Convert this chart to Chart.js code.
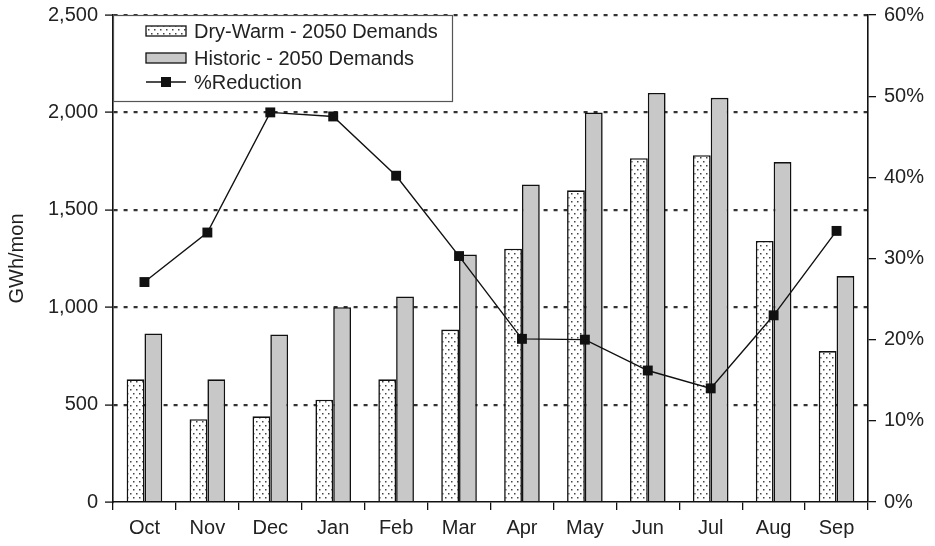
<!DOCTYPE html>
<html>
<head>
<meta charset="utf-8">
<script src="https://cdn.jsdelivr.net/npm/chart.js@4.4.1/dist/chart.umd.min.js"></script>
<style>
  html, body { margin: 0; padding: 0; background: #fff; }
  #wrap { width: 935px; height: 546px; position: relative; }
</style>
</head>
<body>
<div id="wrap"><canvas id="c" width="935" height="546"></canvas></div>
<script>
// Monthly energy demand (GWh/mon) and the percentage reduction between scenarios
const months = ['Oct', 'Nov', 'Dec', 'Jan', 'Feb', 'Mar', 'Apr', 'May', 'Jun', 'Jul', 'Aug', 'Sep'];
const dryWarm = [630, 425, 440, 525, 630, 885, 1300, 1600, 1765, 1780, 1340, 775];
const historic = [865, 630, 860, 1000, 1055, 1270, 1630, 2000, 2100, 2075, 1745, 1160];
const reduction = [27.1, 33.2, 48.0, 47.5, 40.2, 30.3, 20.1, 20.0, 16.2, 14.0, 23.0, 33.4];
const seriesNames = ['Dry-Warm - 2050 Demands', 'Historic - 2050 Demands', '%Reduction'];

const FONT = '"Liberation Sans", Arial, Helvetica, sans-serif';
const FS = 20;

// stippled fill for the dry-warm bars
function makeDots() {
  const t = document.createElement('canvas');
  t.width = 6; t.height = 8;
  const g = t.getContext('2d');
  g.fillStyle = '#ffffff';
  g.fillRect(0, 0, 6, 8);
  g.fillStyle = '#444';
  g.fillRect(1, 1, 1.5, 1.5);
  g.fillRect(4, 5, 1.5, 1.5);
  return g.createPattern(t, 'repeat');
}
const ctx = document.getElementById('c').getContext('2d');
const dots = makeDots();

// legend box drawn inside the plot area, top-left
const boxLegend = {
  id: 'boxLegend',
  afterDraw(chart) {
    const c = chart.ctx;
    const a = chart.chartArea;
    const x0 = a.left, y0 = a.top, w = 340, h = 87;
    c.save();
    c.fillStyle = '#fff';
    c.fillRect(x0, y0, w, h);
    c.strokeStyle = '#555';
    c.lineWidth = 1.2;
    c.strokeRect(x0 + 0.5, y0 + 0.5, w - 1, h - 1);
    c.font = FS + 'px ' + FONT;
    c.textBaseline = 'middle';
    const sx = x0 + 33, sw = 40, tx = x0 + 81;
    const rows = [y0 + 16, y0 + 43, y0 + 67];
    c.strokeStyle = '#111'; c.lineWidth = 1.3;
    // dry-warm swatch
    c.fillStyle = dots;
    c.fillRect(sx, rows[0] - 5, sw, 10);
    c.strokeRect(sx, rows[0] - 5, sw, 10);
    // historic swatch
    c.fillStyle = '#c8c8c8';
    c.fillRect(sx, rows[1] - 5, sw, 10);
    c.strokeRect(sx, rows[1] - 5, sw, 10);
    // line swatch
    c.beginPath();
    c.moveTo(sx, rows[2]); c.lineTo(sx + sw, rows[2]);
    c.lineWidth = 1.5; c.stroke();
    c.fillStyle = '#111';
    c.fillRect(sx + sw / 2 - 5, rows[2] - 5, 10, 10);
    c.fillStyle = '#222';
    seriesNames.forEach((n, i) => c.fillText(n, tx, rows[i] + 1));
    c.restore();
  }
};

// let the plot area reach the canvas edges set by layout padding
function fixVertical(width) {
  return (s) => { s.width = width; s.paddingTop = 0; s.paddingBottom = 0; };
}

new Chart(ctx, {
  data: {
    labels: months,
    datasets: [
      {
        type: 'line', label: seriesNames[2], data: reduction, yAxisID: 'y1', order: 0,
        borderColor: '#111', borderWidth: 1.4, pointStyle: 'rect', pointRadius: 7,
        pointBackgroundColor: '#111', pointBorderColor: '#111', pointBorderWidth: 0, tension: 0
      },
      {
        type: 'bar', label: seriesNames[0], data: dryWarm, yAxisID: 'y', order: 1,
        backgroundColor: dots, borderColor: '#111', borderWidth: 1.6,
        categoryPercentage: 0.566, barPercentage: 1.0
      },
      {
        type: 'bar', label: seriesNames[1], data: historic, yAxisID: 'y', order: 1,
        backgroundColor: '#c8c8c8', borderColor: '#111', borderWidth: 1.6,
        categoryPercentage: 0.566, barPercentage: 1.0
      }
    ]
  },
  options: {
    responsive: false,
    animation: false,
    devicePixelRatio: 1,
    layout: { padding: { top: 15, right: 0, left: 0, bottom: 0 } },
    plugins: { legend: { display: false }, tooltip: { enabled: false } },
    scales: {
      x: {
        grid: { offset: true, drawOnChartArea: false, tickLength: 8, color: '#111', lineWidth: 1.3 },
        border: { color: '#111', width: 1.6 },
        ticks: { color: '#222', font: { family: FONT, size: FS }, padding: 6, maxRotation: 0 },
        afterFit(s) { s.height = 44; s.paddingLeft = 0; s.paddingRight = 0; }
      },
      y: {
        position: 'left', min: 0, max: 2500,
        grid: {
          color: (c) => c.tick && c.tick.value === 0 ? 'rgba(0,0,0,0)' : '#333',
          lineWidth: 2.2, tickLength: 8, tickColor: '#111', tickWidth: 1.3, tickBorderDash: []
        },
        border: { color: '#111', width: 1.6, dash: [4, 6] },
        ticks: {
          stepSize: 500, color: '#222', font: { family: FONT, size: FS }, padding: 7,
          callback: (v) => v.toLocaleString('en-US')
        },
        title: { display: true, text: 'GWh/mon', color: '#222', font: { family: FONT, size: FS }, padding: { top: 5, bottom: 4 } },
        afterFit: fixVertical(113)
      },
      y1: {
        position: 'right', min: 0, max: 60,
        grid: { drawOnChartArea: false, tickLength: 8, color: '#111', lineWidth: 1.3 },
        border: { color: '#111', width: 1.6 },
        ticks: {
          stepSize: 10, color: '#222', font: { family: FONT, size: FS }, padding: 8,
          callback: (v) => v + '%'
        },
        afterFit: fixVertical(67)
      }
    }
  },
  plugins: [boxLegend]
});
</script>
</body>
</html>
